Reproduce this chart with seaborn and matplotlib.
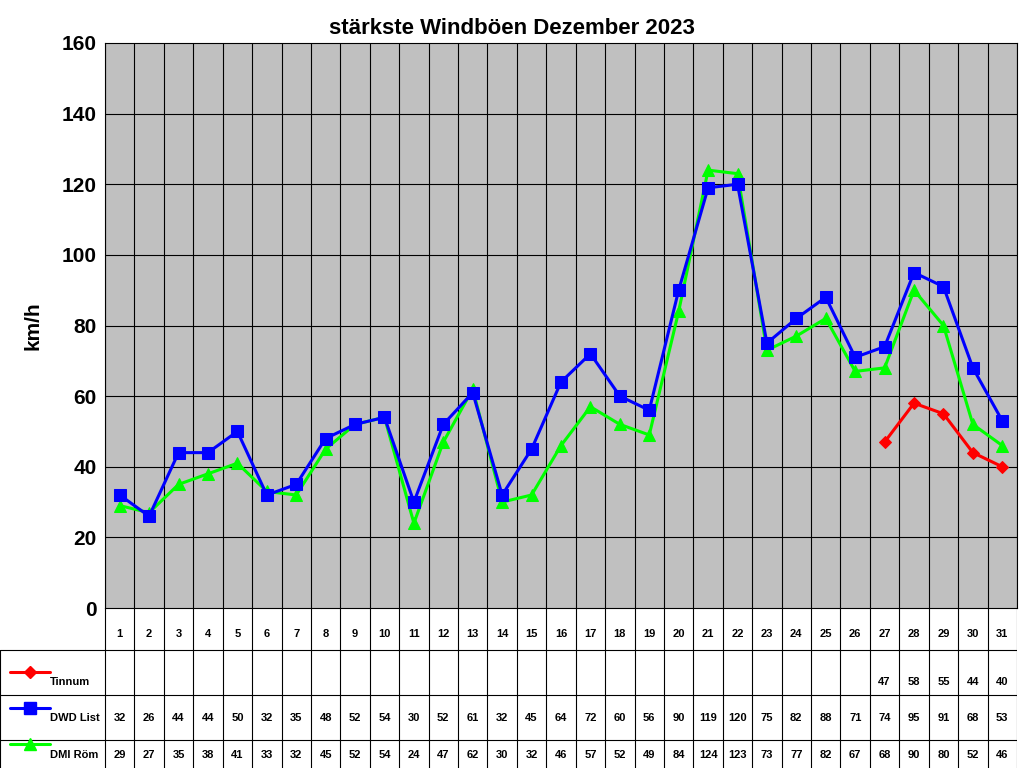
import numpy as np
import pandas as pd
import matplotlib
matplotlib.use("Agg")
import matplotlib.pyplot as plt
import seaborn as sns

# --- DATEN ---
tage = list(range(1, 32))
tinnum_tage = [27, 28, 29, 30, 31]
tinnum = [47, 58, 55, 44, 40]
dwd_list = [32, 26, 44, 44, 50, 32, 35, 48, 52, 54, 30, 52, 61, 32, 45, 64,
            72, 60, 56, 90, 119, 120, 75, 82, 88, 71, 74, 95, 91, 68, 53]
dmi_roem = [29, 27, 35, 38, 41, 33, 32, 45, 52, 54, 24, 47, 62, 30, 32, 46,
            57, 52, 49, 84, 124, 123, 73, 77, 82, 67, 68, 90, 80, 52, 46]

sns.set_style("white")
plt.rcParams['font.family'] = ['Liberation Sans', 'DejaVu Sans']
plt.rcParams['text.color'] = 'black'
plt.rcParams['axes.labelcolor'] = 'black'
plt.rcParams['ytick.color'] = 'black'

W, H = 1024, 768
fig = plt.figure(figsize=(W / 100, H / 100), dpi=100)
x0, x1, ytop, ybot = 105, 1017, 43, 608
ax = fig.add_axes([x0 / W, (H - ybot) / H, (x1 - x0) / W, (ybot - ytop) / H])
ax.set_facecolor("#C0C0C0")

idx_t = [t - 1 for t in tinnum_tage]
df_dmi = pd.DataFrame({"x": range(31), "y": dmi_roem})
df_dwd = pd.DataFrame({"x": range(31), "y": dwd_list})
df_tin = pd.DataFrame({"x": idx_t, "y": tinnum})
sns.lineplot(data=df_dmi, x="x", y="y", ax=ax, color="#00FF00", lw=2.2,
             marker="^", markersize=8, markeredgecolor="#00FF00", zorder=3)
sns.lineplot(data=df_dwd, x="x", y="y", ax=ax, color="#0000FF", lw=2.2,
             marker="s", markersize=8, markeredgecolor="#0000FF", zorder=4)
sns.lineplot(data=df_tin, x="x", y="y", ax=ax, color="#FF0000", lw=2.2,
             marker="D", markersize=6, markeredgecolor="#FF0000", zorder=5)

ax.set_xlim(-0.5, 30.5)
ax.set_ylim(0, 160)
ax.set_yticks(range(0, 161, 20))
ax.set_xticks([])
for i in range(32):
    ax.axvline(i - 0.5, color="black", lw=0.8, zorder=1)
for v in range(20, 160, 20):
    ax.axhline(v, color="black", lw=0.8, zorder=1)
for s in ax.spines.values():
    s.set_color("black")
ax.tick_params(axis="y", labelsize=15, length=0, pad=6, colors="black")
for lab in ax.get_yticklabels():
    lab.set_fontweight("bold")
ax.set_xlabel("")
ax.set_ylabel("km/h", fontsize=15, fontweight="bold", labelpad=14)
fig.text(512 / W, 1 - 28 / H, "stärkste Windböen Dezember 2023", ha="center", va="center",
         fontsize=16, fontweight="bold", color="black")

# --- TABELLE ---
tx = fig.add_axes([0, 0, x1 / W, (H - ybot) / H])
links = -0.5 - x0 / (x1 - x0) * 31
tx.set_xlim(links, 30.5)
tx.set_ylim(0, 160)
tx.axis("off")
for i in range(32):
    tx.plot([i - 0.5, i - 0.5], [0, 160], color="black", lw=0.8)
tx.plot([links, links], [0, 118], color="black", lw=0.8)
for yy in [118, 73, 28]:
    tx.plot([links, 30.5], [yy, yy], color="black", lw=0.8)
for i, t in enumerate(tage):
    tx.text(i, 134, str(t), ha="center", va="center", fontsize=8, fontweight="bold")
for i, v in zip(idx_t, tinnum):
    tx.text(i, 86, str(v), ha="center", va="center", fontsize=8, fontweight="bold")
for i, v in enumerate(dwd_list):
    tx.text(i, 50, str(v), ha="center", va="center", fontsize=8, fontweight="bold")
for i, v in enumerate(dmi_roem):
    tx.text(i, 13, str(v), ha="center", va="center", fontsize=8, fontweight="bold")

einheit = 31 / (x1 - x0)
reihen = [("Tinnum", "#FF0000", "D", 6, 96, 86), ("DWD List", "#0000FF", "s", 8, 60, 50),
          ("DMI Röm", "#00FF00", "^", 8, 24, 13)]
for name, farbe, m, ms, ym, yt in reihen:
    xa, xb = links + 10 * einheit, links + 50 * einheit
    tx.plot([xa, xb], [ym, ym], color=farbe, lw=2.2)
    tx.plot([(xa + xb) / 2], [ym], marker=m, color=farbe, markersize=ms)
    tx.text(links + 50 * einheit, yt, name, ha="left", va="center", fontsize=8, fontweight="bold")

fig.savefig("out.png", dpi=100, facecolor="white")
